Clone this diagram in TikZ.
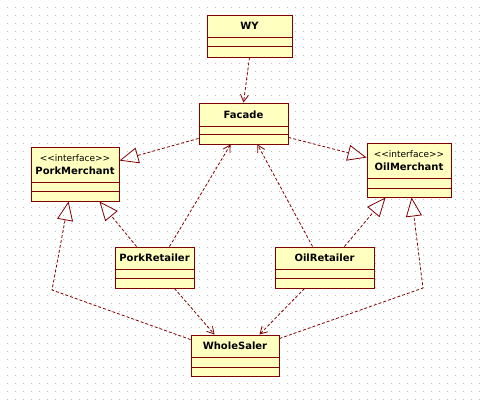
\documentclass[tikz,border=0pt]{standalone}
\usepackage{fontspec}
\setmainfont{DejaVu Sans}
\usetikzlibrary{arrows.meta}
\definecolor{umlred}{HTML}{800000}
\definecolor{umlfill}{HTML}{FFFFC0}
\definecolor{griddot}{HTML}{BEBEBE}
\tikzset{
  umlbox/.style={draw=umlred, fill=umlfill, line width=0.9pt, inner sep=0pt, rectangle},
  divider/.style={draw=umlred, line width=0.9pt},
  titletext/.style={inner sep=0pt, font=\fontsize{10}{12}\selectfont\bfseries, text=black},
  stereotext/.style={inner sep=0pt, font=\fontsize{9}{11}\selectfont, text=black},
  conn/.style={draw=umlred, line width=0.8pt, dash pattern=on 3pt off 2pt},
  dep/.style={conn, -{Straight Barb[length=7pt,width=8pt]}},
  real/.style={conn, -{Triangle[open,length=19pt,width=16pt]}},
}
\newcommand\umlclassbox[7]{%
  \node[umlbox, minimum width={#4-#2}, minimum height={#5-#3}] (#1) at ({(#2+#4)/2},{(#3+#5)/2}) {};
  \draw[divider] (#1.west |- 0,#6) -- (#1.east |- 0,#6);
  \draw[divider] (#1.west |- 0,#7) -- (#1.east |- 0,#7);
}
\begin{document}
\begin{tikzpicture}[x=1pt,y=-1pt]
\useasboundingbox (0,0) rectangle (487,401);
\fill[white] (0,0) rectangle (487,401);
\foreach \i in {0,...,59}{
  \foreach \j in {0,...,49}{
    \fill[griddot] ({7+8*\i},{7+8*\j}) rectangle +(1,1);
  }
}
% boxes
\umlclassbox{wy}{207}{15}{292}{57}{37}{46}
\umlclassbox{facade}{199}{103}{288}{144}{126}{134}
\umlclassbox{pm}{31}{147}{119}{201}{182}{191}
\umlclassbox{om}{367}{143}{451}{197}{178}{188}
\umlclassbox{pr}{115}{247}{194}{288}{269}{278}
\umlclassbox{or}{275}{247}{374}{288}{269}{278}
\umlclassbox{ws}{191}{335}{279}{376}{357}{367}
% texts
\node[titletext] (wyt) at (249.5,26) {WY};
\node[titletext] (facadet) at (243.5,114.5) {Facade};
\node[stereotext] (pms) at (75,158) {<\kern0pt<interface>\kern0pt>};
\node[titletext] (pmt) at (75,171) {PorkMerchant};
\node[stereotext] (oms) at (409,154) {<\kern0pt<interface>\kern0pt>};
\node[titletext] (omt) at (409,167) {OilMerchant};
\node[titletext] (prt) at (154.5,258) {PorkRetailer};
\node[titletext] (ort) at (324.5,258) {OilRetailer};
\node[titletext] (wst) at (235,346) {WholeSaler};
% bend points
\coordinate (b1) at (52,290);
\coordinate (b2) at (423,288);
% connectors
\draw[dep] (wy.south) -- (facade.north);
\draw[real] ([yshift=6pt]facade.south west) -- ([yshift=-14pt]pm.north east);
\draw[real] ([yshift=7pt]facade.south east) -- ([yshift=-15pt]om.north west);
\draw[real] ([xshift=22pt]pr.north west) -- ([xshift=-20pt]pm.south east);
\draw[dep] ([xshift=-25pt]pr.north east) -- ([xshift=32pt]facade.south west);
\draw[dep] ([xshift=38pt]or.north west) -- ([xshift=-31pt]facade.south east);
\draw[real] ([xshift=-30pt]or.north east) -- ([xshift=19pt]om.south west);
\draw[dep] ([xshift=-20pt]pr.south east) -- ([xshift=24pt]ws.north west);
\draw[dep] ([xshift=30pt]or.south west) -- ([xshift=-20pt]ws.north east);
\draw[real] ([yshift=-5pt]ws.north west) -- (b1) -- ([xshift=38pt]pm.south west);
\draw[real] ([yshift=-4pt]ws.north east) -- (b2) -- ([xshift=45pt]om.south west);
\end{tikzpicture}
\end{document}
